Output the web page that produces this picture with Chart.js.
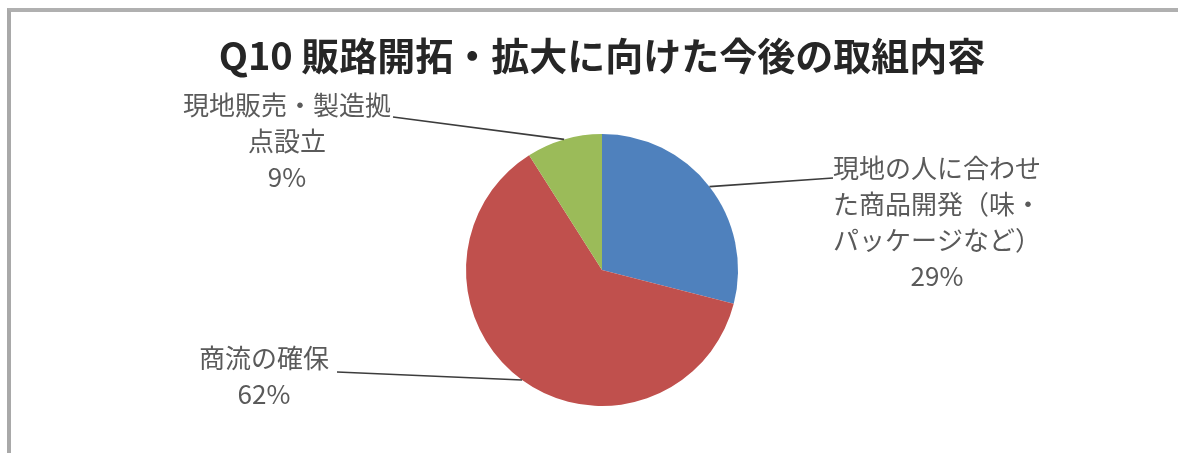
<!DOCTYPE html>
<html lang="ja">
<head>
<meta charset="UTF-8">
<title>Q10 販路開拓・拡大に向けた今後の取組内容</title>
<script src="https://cdn.jsdelivr.net/npm/chart.js"></script>
<style>
    body {
        margin: 0;
        background: #fff;
        overflow: hidden;
    }
    #wrap {
        position: relative;
        width: 1178px;
        height: 453px;
    }
    /* chart frame: only the left and top edges fall inside the window */
    #frame {
        position: absolute;
        left: 7px;
        top: 8px;
        width: 1200px;
        height: 480px;
        border-left: 4px solid #a9a9a9;
        border-top: 4px solid #b0b0b0;
    }
    #chart {
        position: absolute;
        left: 0;
        top: 0;
    }
</style>
</head>
<body>
<div id="wrap">
    <div id="frame"></div>
    <canvas id="chart" width="1178" height="453"></canvas>
</div>

<script>
    var titleText = 'Q10 販路開拓・拡大に向けた今後の取組内容';
    var categories = [
        '現地の人に合わせた商品開発（味・パッケージなど）',
        '商流の確保',
        '現地販売・製造拠点設立'
    ];
    var shares = [29, 62, 9];
    var colors = ['#4f81bd', '#c0504d', '#9bbb59'];

    var labelFont = '26px "Noto Sans CJK JP", "Noto Sans", sans-serif';
    var charsPerLine = 8;

    // where each data label sits (centre x, first line y) and where its leader line meets it
    var labelPlaces = [
        { x: 937, y: 168, anchor: [833, 178] },
        { x: 264, y: 358, anchor: [337, 372] },
        { x: 287, y: 105, anchor: [393, 117] }
    ];
    var lineGap = 36;

    function wrapLabel(text) {
        var out = [];
        for (var i = 0; i < text.length; i += charsPerLine) {
            out.push(text.slice(i, i + charsPerLine));
        }
        return out;
    }

    var outsideLabels = {
        id: 'outsideLabels',
        afterDatasetsDraw: function(chart) {
            var ctx = chart.ctx;
            var meta = chart.getDatasetMeta(0);
            var data = chart.data.datasets[0].data;
            var total = data.reduce(function(a, b) { return a + b; }, 0);
            ctx.save();
            meta.data.forEach(function(arc, i) {
                var p = arc.getProps(['x', 'y', 'startAngle', 'endAngle', 'outerRadius'], true);
                var mid = (p.startAngle + p.endAngle) / 2;
                var ex = p.x + Math.cos(mid) * p.outerRadius;
                var ey = p.y + Math.sin(mid) * p.outerRadius;
                var place = labelPlaces[i];

                // leader line
                ctx.strokeStyle = '#3c3c3c';
                ctx.lineWidth = 1.6;
                ctx.beginPath();
                ctx.moveTo(ex, ey);
                ctx.lineTo(place.anchor[0], place.anchor[1]);
                ctx.stroke();

                // label text
                var lines = wrapLabel(chart.data.labels[i]);
                lines.push(Math.round(data[i] / total * 100) + '%');
                ctx.font = labelFont;
                ctx.fillStyle = '#5a5a5a';
                ctx.textAlign = 'center';
                ctx.textBaseline = 'middle';
                lines.forEach(function(line, k) {
                    ctx.fillText(line, place.x, place.y + k * lineGap);
                });
            });
            ctx.restore();
        }
    };

    var ctx = document.getElementById('chart').getContext('2d');
    new Chart(ctx, {
        type: 'pie',
        data: {
            labels: categories,
            datasets: [{
                data: shares,
                backgroundColor: colors,
                borderWidth: 0
            }]
        },
        options: {
            responsive: false,
            animation: false,
            layout: {
                padding: { left: 26, right: 0, top: 0, bottom: 47 }
            },
            plugins: {
                legend: { display: false },
                tooltip: { enabled: false },
                title: {
                    display: true,
                    text: titleText,
                    color: '#262626',
                    font: {
                        family: '"Noto Sans CJK JP", "Noto Sans", sans-serif',
                        size: 38,
                        weight: 'bold'
                    },
                    padding: { top: 33, bottom: 55.4 }
                }
            }
        },
        plugins: [outsideLabels]
    });
</script>
</body>
</html>
